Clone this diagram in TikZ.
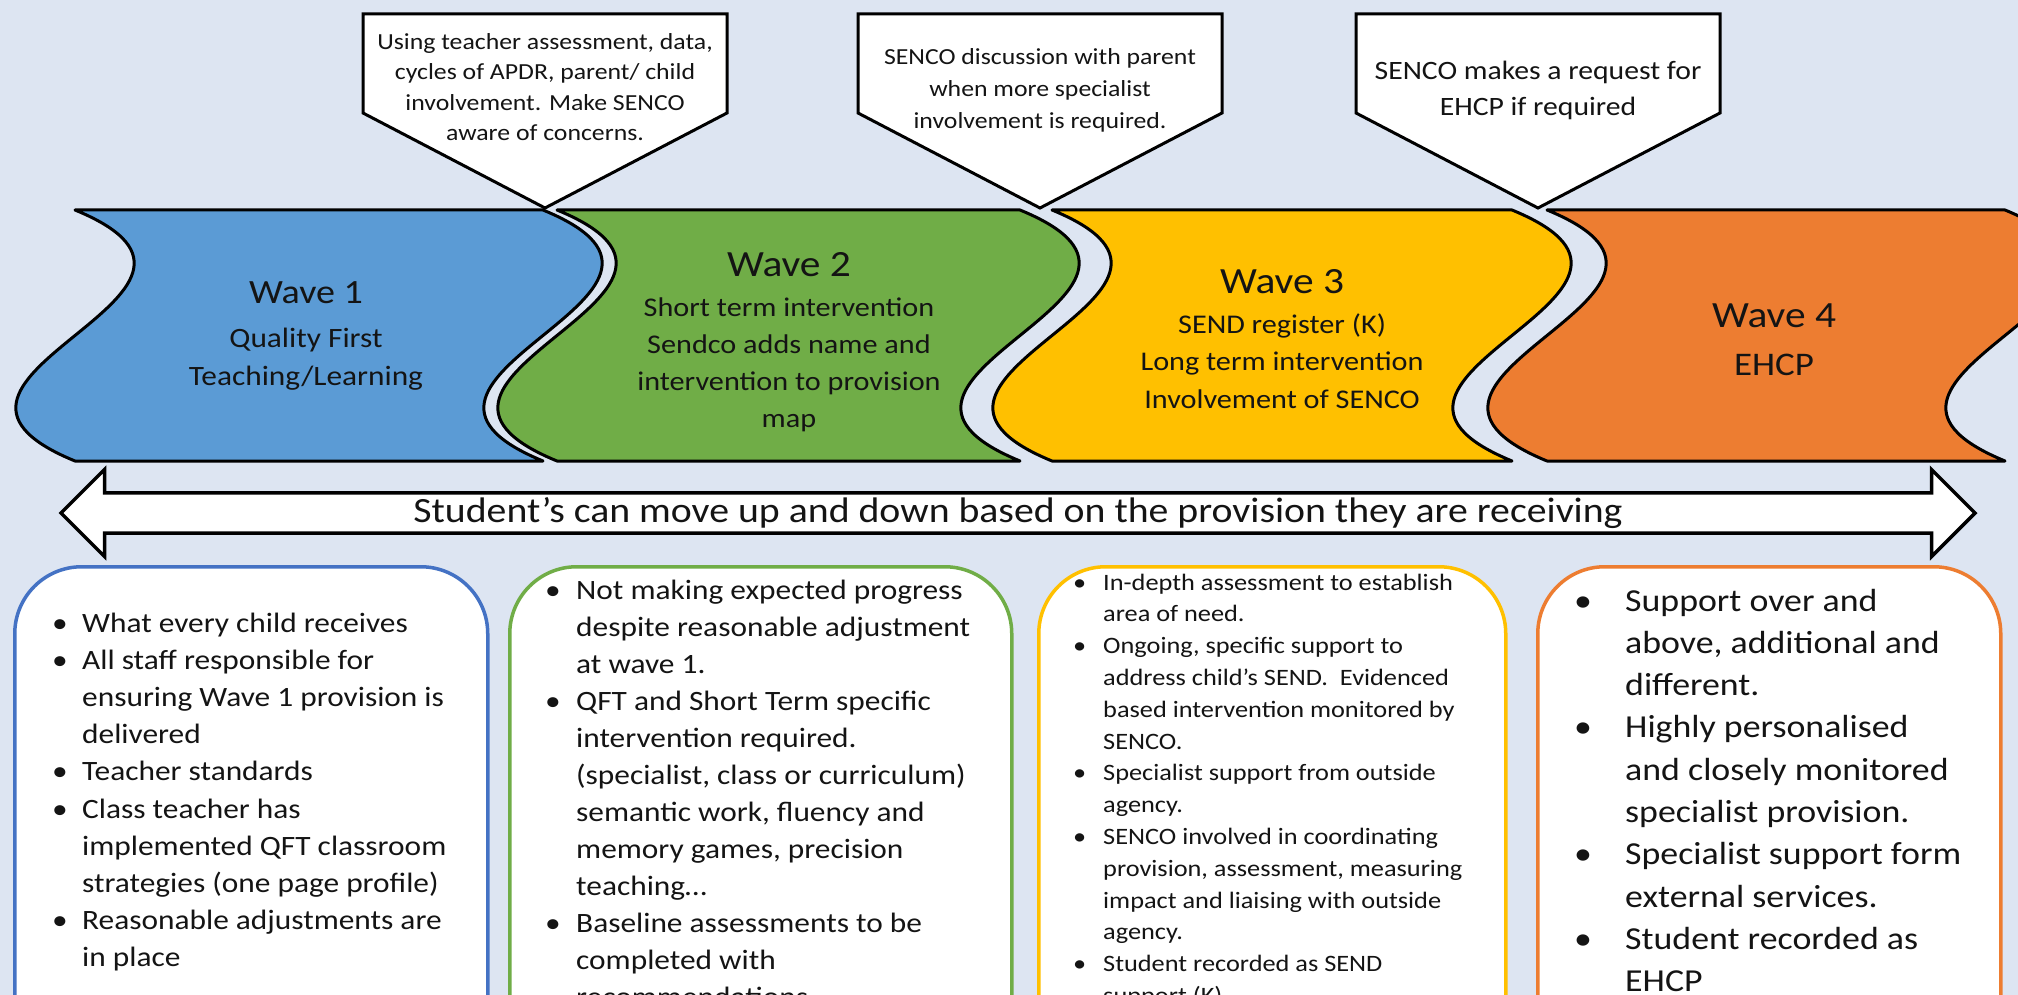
\documentclass[tikz,border=0pt]{standalone}
\usepackage{fontspec}
\setmainfont{Carlito}[FakeStretch=1.12]
\usetikzlibrary{shapes.arrows}

\definecolor{slide}{RGB}{221,229,242}
\definecolor{waveblue}{RGB}{91,155,213}
\definecolor{wavegreen}{RGB}{112,173,71}
\definecolor{wavegold}{RGB}{255,192,0}
\definecolor{waveorange}{RGB}{237,125,49}
\definecolor{boxblue}{RGB}{68,114,196}
\definecolor{ink}{RGB}{20,20,20}

% one wave band: left edge, right edge, fill
\newcommand{\waveband}[3]{%
  \filldraw[waveline, fill=#3] (#1,210) -- (#2,210)
    .. controls (#2+205,294) and (#2-205,377) .. (#2,461) -- (#1,461)
    .. controls (#1-205,377) and (#1+205,294) .. (#1,210) -- cycle;}

% note flag pointing down at x
\newcommand{\noteflag}[1]{%
  \filldraw[noteline] (#1-182,14) -- (#1+182,14) -- (#1+182,113)
    -- (#1,208) -- (#1-182,113) -- cycle;}

\begin{document}
\begin{tikzpicture}[x=1pt, y=-1pt,
    waveline/.style={draw=black, line width=3pt, line join=round},
    noteline/.style={draw=black, fill=white, line width=3pt},
    wavetitle/.style={font=\fontsize{37}{44}\selectfont, text=ink, anchor=base, inner sep=0pt},
    wavetext/.style={font=\fontsize{27}{36.7}\selectfont, text=ink, align=center, anchor=base, inner sep=0pt},
    notetext/.style={font=\fontsize{23}{30.5}\selectfont, text=ink, align=center, anchor=base, inner sep=0pt},
    infobox/.style={fill=white, line width=3.5pt, rounded corners=67pt, minimum height=600pt, anchor=north west},
    bullets/.style={text=ink, anchor=base west, inner sep=0pt}]
    \useasboundingbox (0,0) rectangle (2018,995);
    \clip (0,0) rectangle (2018,995);
    \fill[slide] (0,0) rectangle (2018,995);

    % waves
    \waveband{75}{543}{waveblue}
    \waveband{557}{1020}{wavegreen}
    \waveband{1052}{1512}{wavegold}
    \waveband{1547}{2005}{waveorange}

    % notes above the waves (text placed at its last baseline)
    \noteflag{545}
    \noteflag{1040}
    \noteflag{1538}

    \node (n1) [notetext] at (545,141) {Using teacher assessment, data,\\cycles of APDR, parent/ child\\involvement. Make SENCO\\aware of concerns.};
    \node (n2) [notetext, font=\fontsize{23}{32}\selectfont] at (1040,129) {SENCO discussion with parent\\when more specialist\\involvement is required.};
    \node (n3) [notetext, font=\fontsize{26.5}{36}\selectfont] at (1538,116) {SENCO makes a request for\\EHCP if required};

    % wave texts
    \node (w1t) [wavetitle, font=\fontsize{34}{40}\selectfont] at (306,303) {Wave 1};
    \node (w1b) [wavetext, font=\fontsize{28}{38}\selectfont] at (306,385) {Quality First\\Teaching/Learning};
    \node (w2t) [wavetitle] at (789,276) {Wave 2};
    \node (w2b) [wavetext] at (789,427) {Short term intervention\\Sendco adds name and\\intervention to provision\\map};
    \node (w3t) [wavetitle] at (1282,293) {Wave 3};
    \node (w3b) [wavetext, font=\fontsize{27}{37.5}\selectfont] at (1282,408) {SEND register (K)\\Long term intervention\\Involvement of SENCO};
    \node (w4t) [wavetitle] at (1774,327) {Wave 4};
    \node (w4b) [wavetext, font=\fontsize{33}{40}\selectfont] at (1774,375) {EHCP};

    % up and down arrow
    \node (move) [double arrow, draw=black, fill=white, line width=3.5pt,
        minimum height=1914pt, minimum width=87pt, double arrow head extend=20pt,
        inner sep=0pt, text=ink, font=\fontsize{35.5}{40}\selectfont] at (1018,513)
        {Student’s can move up and down based on the provision they are receiving};

    % boxes below
    \node (b1) [infobox, draw=boxblue, minimum width=473pt] at (13,565) {};
    \node (b2) [infobox, draw=wavegreen, minimum width=502pt] at (508,565) {};
    \node (b3) [infobox, draw=wavegold, minimum width=467pt] at (1037,565) {};
    \node (b4) [infobox, draw=waveorange, minimum width=463pt] at (1536,565) {};

    \node (t1) [bullets, font=\fontsize{28}{37.2}\selectfont] at (52,632) {%
      \begin{tabular}[t]{@{}p{30pt}@{}l@{}}
      • & What every child receives\\
      • & All staff responsible for\\
        & ensuring Wave 1 provision is\\
        & delivered\\
      • & Teacher standards\\
      • & Class teacher has\\
        & implemented QFT classroom\\
        & strategies (one page profile)\\
      • & Reasonable adjustments are\\
        & in place
      \end{tabular}};

    \node (t2) [bullets, font=\fontsize{28}{37}\selectfont] at (545,599) {%
      \begin{tabular}[t]{@{}p{31pt}@{}l@{}}
      • & Not making expected progress\\
        & despite reasonable adjustment\\
        & at wave 1.\\
      • & QFT and Short Term specific\\
        & intervention required.\\
        & (specialist, class or curriculum)\\
        & semantic work, fluency and\\
        & memory games, precision\\
        & teaching…\\
      • & Baseline assessments to be\\
        & completed with\\
        & recommendations
      \end{tabular}};

    \node (t3) [bullets, font=\fontsize{23.5}{31.8}\selectfont] at (1073,590) {%
      \begin{tabular}[t]{@{}p{30pt}@{}l@{}}
      • & In-depth assessment to establish\\
        & area of need.\\
      • & Ongoing, specific support to\\
        & address child’s SEND.~ Evidenced\\
        & based intervention monitored by\\
        & SENCO.\\
      • & Specialist support from outside\\
        & agency.\\
      • & SENCO involved in coordinating\\
        & provision, assessment, measuring\\
        & impact and liaising with outside\\
        & agency.\\
      • & Student recorded as SEND\\
        & support (K)
      \end{tabular}};

    \node (t4) [bullets, font=\fontsize{32}{42.3}\selectfont] at (1574,611) {%
      \begin{tabular}[t]{@{}p{51pt}@{}l@{}}
      • & Support over and\\
        & above, additional and\\
        & different.\\
      • & Highly personalised\\
        & and closely monitored\\
        & specialist provision.\\
      • & Specialist support form\\
        & external services.\\
      • & Student recorded as\\
        & EHCP
      \end{tabular}};
\end{tikzpicture}
\end{document}
